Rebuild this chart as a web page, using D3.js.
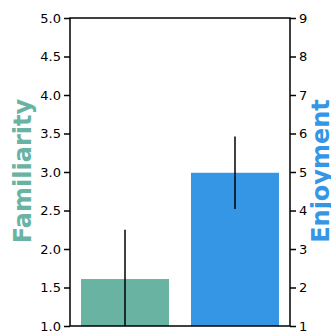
<!DOCTYPE html>
<html><head><meta charset="utf-8">
<script src="https://cdn.jsdelivr.net/npm/d3@7"></script>
<style>body{margin:0;background:#fff}</style>
</head><body>
<svg id="c" width="331" height="334"></svg>
<script>
const categories = ["Familiarity", "Enjoyment"];
const means = [1.61, 4.98];
const errors = [0.64, 0.94];
const leftTicks = [1.0, 1.5, 2.0, 2.5, 3.0, 3.5, 4.0, 4.5, 5.0];
const rightTicks = [1, 2, 3, 4, 5, 6, 7, 8, 9];
const colors = ["#69b3a2", "#3596e6"];

const svg = d3.select("#c");
const L = 70, R = 290, T = 18, B = 326;
const yL = d3.scaleLinear().domain([1, 5]).range([B, T]);
const yR = d3.scaleLinear().domain([1, 9]).range([B, T]);
const x = d3.scaleBand().domain(categories).range([L, R]).paddingInner(0.2).paddingOuter(0.1);
const scales = [yL, yR];

const g = svg.append("g");
categories.forEach((c, i) => {
  const y = scales[i];
  g.append("rect").attr("x", x(c)).attr("width", x.bandwidth())
    .attr("y", y(means[i])).attr("height", B - y(means[i])).attr("fill", colors[i]);
  const cx = x(c) + x.bandwidth() / 2;
  const lo = Math.max(y.domain()[0], means[i] - errors[i]);
  g.append("line").attr("x1", cx).attr("x2", cx)
    .attr("y1", y(lo)).attr("y2", y(means[i] + errors[i]))
    .attr("stroke", "#000").attr("stroke-width", 1.5);
});

const fmt = d3.format(".1f");
const axL = svg.append("g").attr("transform", `translate(${L},0)`)
  .call(d3.axisLeft(yL).tickValues(leftTicks).tickFormat(fmt).tickSize(6).tickPadding(3));
const axR = svg.append("g").attr("transform", `translate(${R},0)`)
  .call(d3.axisRight(yR).tickValues(rightTicks).tickFormat(d3.format("d")).tickSize(6).tickPadding(3));
[axL, axR].forEach(a => {
  a.select(".domain").remove();
  a.selectAll("line").attr("stroke", "#000").attr("stroke-width", 1.5);
  a.selectAll("text").attr("font-family", "DejaVu Sans").attr("font-size", 13).attr("fill", "#000");
});
// frame
svg.append("rect").attr("x", L).attr("y", T).attr("width", R - L).attr("height", B - T)
  .attr("fill", "none").attr("stroke", "#000").attr("stroke-width", 1.5);

svg.append("text").attr("transform", `translate(31,${(T + B) / 2 - 1}) rotate(-90)`)
  .attr("text-anchor", "middle").attr("font-family", "DejaVu Sans").attr("font-weight", "bold")
  .attr("font-size", 24).attr("fill", colors[0]).text(categories[0]);
svg.append("text").attr("transform", `translate(329,${(T + B) / 2 - 1}) rotate(-90)`)
  .attr("text-anchor", "middle").attr("font-family", "DejaVu Sans").attr("font-weight", "bold")
  .attr("font-size", 24).attr("fill", colors[1]).text(categories[1]);
</script>
</body></html>
